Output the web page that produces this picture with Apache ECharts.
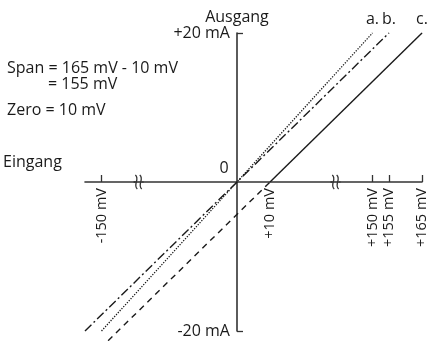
<!DOCTYPE html>
<html><head><meta charset="utf-8">
<script src="https://cdn.jsdelivr.net/npm/echarts@6/dist/echarts.min.js"></script>
<style>html,body{margin:0;padding:0;background:#fff}#c{width:433px;height:341px}</style>
</head><body><div id="c"></div>
<script>
// ---- data ----
const xTickLabels = [-150, 10, 150, 155, 165];
const xTickMarks = [-150, 150, 155, 165];
const yTickLabels = [-20, 20];
const lineA = [[-150, -20], [150, 20]];
const lineB = [[-155, -20], [155, 20]];
const lineC = [[10, 0], [165, 20]];
const lineCExt = [[-148, -21.3], [10, 0]];
const axisBreaks = [[-140, -28.6], [28.6, 140]];
const endNames = ['a.', 'b.', 'c.'];
const endPoints = [[150, 20], [155, 20], [165, 20]];
const notes = ['Span = 165 mV - 10 mV', '= 155 mV', 'Zero = 10 mV'];

const FONT = 'Open Sans';
const INK = '#1a1a1a';
const AX = '#333';
const FS = 16;
const chart = echarts.init(document.getElementById('c'), null, {renderer: 'canvas'});
const txt = (s, x, y, size, align) => ({type: 'text', x: x, y: y,
  style: {text: s, fill: INK, fontSize: size, fontFamily: FONT, verticalAlign: 'middle', align: align || 'left'}});

const baseOption = {
  animation: false,
  backgroundColor: '#fff',
  grid: {left: 85, right: 11, top: 33, bottom: 10, outerBoundsMode: 'none', containLabel: false},
  xAxis: {
    type: 'value', min: -155, max: 165, position: 'bottom', offset: 0,
    breaks: axisBreaks.map(b => ({start: b[0], end: b[1], gap: 2.4})),
    breakArea: {show: false},
    axisLine: {onZero: false, lineStyle: {color: AX, width: 1.6}},
    axisTick: {show: true, inside: true, length: 7, customValues: xTickMarks, lineStyle: {color: AX, width: 1.3}},
    axisLabel: {customValues: xTickLabels, rotate: 90, margin: 6, fontSize: 14.5, color: INK, fontFamily: FONT,
      formatter: v => (v > 0 ? '+' : '') + v + ' mV'},
    splitLine: {show: false}
  },
  yAxis: {
    type: 'value', min: -20, max: 20, interval: 20, position: 'left', offset: 0,
    name: 'Ausgang', nameLocation: 'end', nameGap: 8,
    nameTextStyle: {fontSize: FS, color: INK, fontFamily: FONT},
    axisLine: {show: true, onZero: false, lineStyle: {color: AX, width: 1.6}},
    axisTick: {show: true, inside: true, length: 6, customValues: yTickLabels, lineStyle: {color: AX, width: 1.3}},
    axisLabel: {customValues: yTickLabels, margin: 7, fontSize: FS, color: INK, fontFamily: FONT,
      formatter: v => (v > 0 ? '+' : '') + v + ' mA'},
    splitLine: {show: false}
  },
  series: [
    {type: 'line', data: lineA, showSymbol: false, clip: false, lineStyle: {color: INK, width: 1.3, type: [1.3, 1.4]}},
    {type: 'line', data: lineB, showSymbol: false, clip: false, lineStyle: {color: INK, width: 1.4, type: [9, 3, 2, 3]}},
    {type: 'line', data: lineC, showSymbol: false, clip: false, lineStyle: {color: INK, width: 1.4}},
    {type: 'line', data: lineCExt, showSymbol: false, clip: false, lineStyle: {color: INK, width: 1.4, type: [6, 5]}},
    {type: 'scatter', data: endPoints.map((p, i) => ({value: p, name: endNames[i]})), symbolSize: 0.5,
      itemStyle: {color: INK, opacity: 1},
      label: {show: true, position: 'top', distance: 5, formatter: p => p.name, fontSize: FS, color: INK, opacity: 1, fontFamily: FONT}}
  ]
};
chart.setOption(baseOption);

// place the axes through the origin, using the library's own scale
const px = v => chart.convertToPixel({xAxisIndex: 0, yAxisIndex: 0}, v);
const origin = px([0, 0]);
const leftEdge = px([-155, 0])[0];
const bottomEdge = px([0, -20])[1];
chart.setOption({
  xAxis: {offset: origin[1] - bottomEdge},
  yAxis: {offset: leftEdge - origin[0]}
});

const gfx = [
  txt(notes[0], 7, 68.5, FS), txt(notes[1], 48, 84.5, FS), txt(notes[2], 7, 110.5, FS),
  txt('Eingang', 3, 162, FS)
];
axisBreaks.forEach(b => {
  const x0 = px([b[0], 0])[0], x1 = px([b[1], 0])[0];
  const cx = (x0 + x1) / 2, cy = origin[1];
  gfx.push({type: 'line', shape: {x1: x0 - 1, y1: cy, x2: x1 + 1, y2: cy}, style: {stroke: AX, lineWidth: 1.6}});
  [-2.2, 2.2].forEach(dx => {
    const x = cx + dx;
    gfx.push({type: 'bezierCurve', shape: {x1: x - 1, y1: cy - 7, cpx1: x + 4, cpy1: cy - 3, cpx2: x - 4, cpy2: cy + 3, x2: x + 1, y2: cy + 7},
      style: {stroke: AX, lineWidth: 1.3, fill: null}});
  });
});
gfx.push(txt('0', origin[0] - 13, origin[1] - 14, FS, 'center'));
chart.setOption({graphic: gfx});
</script></body></html>
